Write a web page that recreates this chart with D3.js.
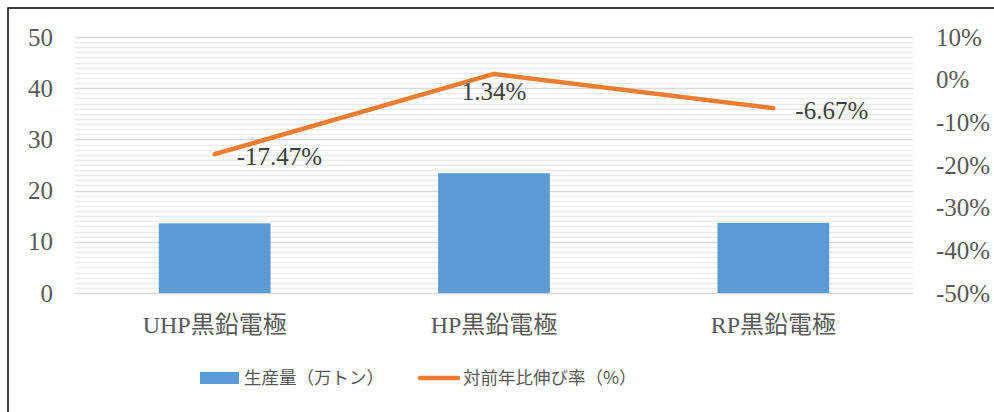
<!DOCTYPE html>
<html>
<head>
<meta charset="utf-8">
<script src="https://cdn.jsdelivr.net/npm/d3@7"></script>
<style>
  body { margin: 0; background: #fff; }
  svg { display: block; }
</style>
</head>
<body>
<div id="chart"></div>
<script>
// data
var categories = ["UHP黒鉛電極", "HP黒鉛電極", "RP黒鉛電極"];
var production = [13.6, 23.4, 13.7];      // 生産量（万トン）
var growth = [-17.47, 1.34, -6.67];       // 対前年比伸び率（%）
var leftTicks = [0, 10, 20, 30, 40, 50];
var rightTicks = [-50, -40, -30, -20, -10, 0, 10];
var seriesNames = ["生産量（万トン）", "対前年比伸び率（%）"];

var serif = "'Liberation Serif', 'Noto Sans CJK JP', serif";
var gothic = "'Noto Sans CJK JP', sans-serif";

var width = 994, height = 412;
var plot = { left: 75, right: 913, top: 37, bottom: 293 };

var svg = d3.select("#chart").append("svg")
  .attr("width", width)
  .attr("height", height);

// outer border (only top/left show in the picture)
svg.append("rect")
  .attr("x", 8).attr("y", 8)
  .attr("width", width + 10).attr("height", height + 10)
  .attr("fill", "none")
  .attr("stroke", "#000")
  .attr("stroke-width", 1.5);

var x = d3.scaleBand()
  .domain(categories)
  .range([plot.left, plot.right])
  .padding(0);

var yL = d3.scaleLinear().domain([0, 50]).range([plot.bottom, plot.top]);
var yR = d3.scaleLinear().domain([-50, 10]).range([plot.bottom, plot.top]);

// minor grid
var minor = d3.range(0, 50, 1).filter(d => d % 10 != 0);
svg.append("g").selectAll("line")
  .data(minor)
  .join("line")
  .attr("x1", plot.left).attr("x2", plot.right)
  .attr("y1", d => Math.round(yL(d)) + 0.5)
  .attr("y2", d => Math.round(yL(d)) + 0.5)
  .attr("stroke", "#ececec")
  .attr("stroke-width", 1.5);

// major grid
svg.append("g").selectAll("line")
  .data(leftTicks)
  .join("line")
  .attr("x1", plot.left).attr("x2", plot.right)
  .attr("y1", d => Math.round(yL(d)) + 0.5)
  .attr("y2", d => Math.round(yL(d)) + 0.5)
  .attr("stroke", "#d9d9d9")
  .attr("stroke-width", 1.5);

// left axis labels
svg.append("g").selectAll("text")
  .data(leftTicks)
  .join("text")
  .style("font-family", serif)
  .attr("x", 53)
  .attr("y", d => yL(d))
  .attr("dy", "0.34em")
  .attr("text-anchor", "end")
  .attr("font-size", 25)
  .attr("fill", "#595959")
  .text(d => d);

// right axis labels
svg.append("g").selectAll("text")
  .data(rightTicks)
  .join("text")
  .style("font-family", serif)
  .attr("x", 936)
  .attr("y", d => yR(d))
  .attr("dy", "0.34em")
  .attr("text-anchor", "start")
  .attr("font-size", 25)
  .attr("fill", "#595959")
  .text(d => d + "%");

// bars
var barW = x.bandwidth() * 0.4;
svg.append("g").selectAll("rect")
  .data(production)
  .join("rect")
  .attr("x", (d, i) => x(categories[i]) + (x.bandwidth() - barW) / 2)
  .attr("y", d => yL(d))
  .attr("width", barW)
  .attr("height", d => yL(0) - yL(d))
  .attr("fill", "#5B9BD5");

// line
var line = d3.line()
  .x((d, i) => x(categories[i]) + x.bandwidth() / 2)
  .y(d => yR(d));

svg.append("path")
  .datum(growth)
  .attr("d", line)
  .attr("fill", "none")
  .attr("stroke", "#ED7D31")
  .attr("stroke-width", 4.5)
  .attr("stroke-linecap", "round")
  .attr("stroke-linejoin", "round");

// data labels: right of point, except the middle one which sits below
svg.append("g").selectAll("text")
  .data(growth)
  .join("text")
  .style("font-family", serif)
  .attr("x", (d, i) => x(categories[i]) + x.bandwidth() / 2 + (i == 1 ? 0 : 22))
  .attr("y", (d, i) => yR(d) + (i == 1 ? 18 : 2))
  .attr("dy", "0.34em")
  .attr("text-anchor", (d, i) => i == 1 ? "middle" : "start")
  .attr("font-size", 25)
  .attr("fill", "#404040")
  .text(d => d.toFixed(2) + "%");

// category labels
svg.append("g").selectAll("text")
  .data(categories)
  .join("text")
  .style("font-family", serif)
  .attr("x", d => x(d) + x.bandwidth() / 2)
  .attr("y", 325)
  .attr("dy", "0.34em")
  .attr("text-anchor", "middle")
  .attr("font-size", 24)
  .attr("fill", "#595959")
  .text(d => d);

// legend
var lg = svg.append("g");
lg.append("rect")
  .attr("x", 200).attr("y", 372)
  .attr("width", 39).attr("height", 12)
  .attr("fill", "#5B9BD5");
lg.append("text")
  .style("font-family", gothic)
  .attr("x", 244).attr("y", 378)
  .attr("dy", "0.36em")
  .attr("font-size", 17.5)
  .attr("fill", "#595959")
  .text(seriesNames[0]);
lg.append("line")
  .attr("x1", 420).attr("x2", 458)
  .attr("y1", 378).attr("y2", 378)
  .attr("stroke", "#ED7D31")
  .attr("stroke-width", 4.5)
  .attr("stroke-linecap", "round");
lg.append("text")
  .style("font-family", gothic)
  .attr("x", 463).attr("y", 378)
  .attr("dy", "0.36em")
  .attr("font-size", 17.5)
  .attr("fill", "#595959")
  .text(seriesNames[1]);
</script>
</body>
</html>
